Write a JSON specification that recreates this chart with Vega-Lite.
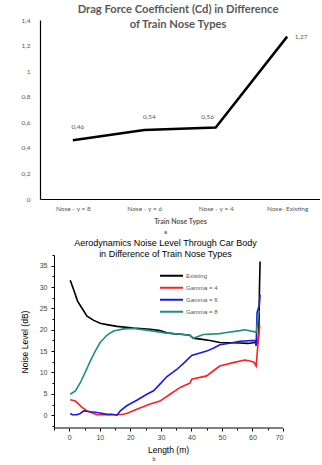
{
  "$schema": "https://vega.github.io/schema/vega-lite/v6.json",
  "padding": {"left": 20, "top": 3, "right": 0, "bottom": 0},
  "background": "white",
  "align": "none",
  "spacing": 4,
  "resolve": {"legend": {"color": "independent"}},
  "config": {
    "view": {"stroke": null},
    "locale": {"number": {"decimal": ",", "thousands": ".", "grouping": [3], "currency": ["", ""]}}
  },
  "title": {"text": "b", "orient": "bottom", "anchor": "middle", "fontSize": 5.5, "fontWeight": "normal", "font": "Liberation Sans", "color": "#333", "dx": -16, "offset": 3},
  "vconcat": [
    {
      "width": 280,
      "height": 179,
      "title": {"text": ["Drag Force Coefficient (Cd) in  Difference", "of Train Nose Types"], "font": "Lato", "fontSize": 11.2, "fontWeight": "bold", "color": "#595959", "offset": -13, "frame": "group", "anchor": "middle", "dx": -2, "lineHeight": 15},
      "data": {"values": [
        {"nose": "Nose - γ = 8", "cd": 0.46},
        {"nose": "Nose - γ = 6", "cd": 0.54},
        {"nose": "Nose - γ = 4", "cd": 0.56},
        {"nose": "Nose- Existing", "cd": 1.27}
      ]},
      "encoding": {
        "x": {"field": "nose", "type": "ordinal", "sort": null, "scale": {"type": "point", "padding": 0.46},
          "axis": {"title": "Train Nose Types", "labelAngle": 0, "ticks": false, "domainColor": "black", "domainWidth": 1.2, "labelFont": "Lato", "labelFontSize": 6.5, "labelColor": "#595959", "labelPadding": 6, "titleFont": "Lato", "titleFontSize": 7, "titleColor": "#595959", "titleFontWeight": "bold", "titlePadding": 6}},
        "y": {"field": "cd", "type": "quantitative", "scale": {"domain": [0, 1.4], "nice": false},
          "axis": {"title": null, "values": [0, 0.2, 0.4, 0.6, 0.8, 1, 1.2, 1.4], "format": ".1~f", "ticks": false, "grid": false, "domainColor": "black", "domainWidth": 1.2, "labelFont": "Lato", "labelFontSize": 6.5, "labelColor": "#595959", "labelPadding": 10}}
      },
      "layer": [
        {"mark": {"type": "line", "color": "black", "strokeWidth": 2.5}},
        {"transform": [{"filter": "datum.cd < 0.55"}], "mark": {"type": "text", "dx": 5, "dy": -13, "font": "Lato", "fontSize": 6.5, "color": "#595959"}, "encoding": {"text": {"field": "cd", "type": "quantitative", "format": ".2f"}}},
        {"transform": [{"filter": "datum.cd > 0.55 && datum.cd < 1"}], "mark": {"type": "text", "dx": -8, "dy": -10, "font": "Lato", "fontSize": 6.5, "color": "#595959"}, "encoding": {"text": {"field": "cd", "type": "quantitative", "format": ".2f"}}},
        {"transform": [{"filter": "datum.cd > 1"}], "mark": {"type": "text", "dx": 14, "dy": 0, "font": "Lato", "fontSize": 6.5, "color": "#595959"}, "encoding": {"text": {"field": "cd", "type": "quantitative", "format": ".2f"}}}
      ]
    },
    {
      "width": 243,
      "height": 173,
      "title": {"text": "a", "fontSize": 5.5, "fontWeight": "normal", "font": "Liberation Sans", "color": "#333", "subtitle": ["Aerodynamics Noise Level Through Car Body", "in Difference of Train Nose Types"], "subtitleFont": "Liberation Sans", "subtitleFontSize": 9, "subtitleColor": "black", "subtitlePadding": 4, "subtitleLineHeight": 10.5, "frame": "group", "anchor": "middle", "dx": 4, "offset": -4},
      "encoding": {
        "x": {"type": "quantitative", "scale": {"domain": [-9.6, 70], "nice": false},
          "axis": {"title": "Length (m)", "domain": false, "values": [-5, 0, 5, 10, 15, 20, 25, 30, 35, 40, 45, 50, 55, 60, 65, 70], "labelExpr": "datum.value % 10 === 0 ? datum.label : ''", "grid": false, "tickSize": {"condition": {"test": "datum.value % 10 === 0", "value": 3}, "value": 2}, "tickColor": "black", "labelFont": "Liberation Sans", "labelFontSize": 7, "labelColor": "#444", "labelPadding": 2, "titleFont": "Liberation Sans", "titleFontSize": 8.5, "titleFontWeight": "normal", "titleColor": "black", "titlePadding": 5, "titleX": 128}},
        "y": {"type": "quantitative", "scale": {"domain": [-3, 37.5], "nice": false},
          "axis": {"title": "Noise Level (dB)", "offset": -14, "values": [-2.5, 0, 2.5, 5, 7.5, 10, 12.5, 15, 17.5, 20, 22.5, 25, 27.5, 30, 32.5, 35, 37.5], "labelExpr": "datum.value % 5 === 0 ? datum.label : ''", "grid": false, "tickSize": {"condition": {"test": "datum.value % 5 === 0", "value": 3}, "value": 2}, "domainColor": "black", "tickColor": "black", "labelFont": "Liberation Sans", "labelFontSize": 7, "labelColor": "#444", "labelPadding": 4, "titleFont": "Liberation Sans", "titleFontSize": 8.5, "titleFontWeight": "normal", "titleColor": "black", "titlePadding": 10}}
      },
      "layer": [
        {
          "data": {"values": [{}]},
          "mark": {"type": "rule", "color": "black", "strokeWidth": 1},
          "encoding": {"x": {"datum": -5}, "x2": {"datum": 70}, "y": {"datum": -3}}
        },
        {
          "data": {"values": [
            {"series": "Existing", "length": 0.3, "noise": 31.6},
            {"series": "Existing", "length": 1.6, "noise": 29.0},
            {"series": "Existing", "length": 2.7, "noise": 26.7},
            {"series": "Existing", "length": 4.1, "noise": 25.1},
            {"series": "Existing", "length": 5.8, "noise": 23.2},
            {"series": "Existing", "length": 8.0, "noise": 22.2},
            {"series": "Existing", "length": 10.1, "noise": 21.5},
            {"series": "Existing", "length": 12.3, "noise": 21.2},
            {"series": "Existing", "length": 15.6, "noise": 20.8},
            {"series": "Existing", "length": 21.0, "noise": 20.4},
            {"series": "Existing", "length": 26.5, "noise": 20.1},
            {"series": "Existing", "length": 29.7, "noise": 19.8},
            {"series": "Existing", "length": 31.9, "noise": 19.3},
            {"series": "Existing", "length": 34.1, "noise": 19.1},
            {"series": "Existing", "length": 37.4, "noise": 18.9},
            {"series": "Existing", "length": 39.5, "noise": 18.7},
            {"series": "Existing", "length": 40.6, "noise": 18.0},
            {"series": "Existing", "length": 43.0, "noise": 17.8},
            {"series": "Existing", "length": 46.1, "noise": 17.5},
            {"series": "Existing", "length": 49.3, "noise": 17.0},
            {"series": "Existing", "length": 55.9, "noise": 16.9},
            {"series": "Existing", "length": 58.5, "noise": 16.8},
            {"series": "Existing", "length": 60.8, "noise": 17.0},
            {"series": "Existing", "length": 61.8, "noise": 17.0},
            {"series": "Existing", "length": 62.1, "noise": 20.0},
            {"series": "Existing", "length": 62.3, "noise": 30.0},
            {"series": "Existing", "length": 62.5, "noise": 36.0},
            {"series": "Gamma = 4", "length": 0.3, "noise": 3.6},
            {"series": "Gamma = 4", "length": 2.0, "noise": 3.3},
            {"series": "Gamma = 4", "length": 4.1, "noise": 1.9},
            {"series": "Gamma = 4", "length": 5.8, "noise": 1.0},
            {"series": "Gamma = 4", "length": 7.5, "noise": 0.5},
            {"series": "Gamma = 4", "length": 9.0, "noise": 0.1},
            {"series": "Gamma = 4", "length": 12.3, "noise": 0.1},
            {"series": "Gamma = 4", "length": 15.6, "noise": 0.1},
            {"series": "Gamma = 4", "length": 17.5, "noise": 0.2},
            {"series": "Gamma = 4", "length": 18.8, "noise": 0.4},
            {"series": "Gamma = 4", "length": 22.1, "noise": 1.4},
            {"series": "Gamma = 4", "length": 26.5, "noise": 2.6},
            {"series": "Gamma = 4", "length": 29.7, "noise": 3.3},
            {"series": "Gamma = 4", "length": 33.0, "noise": 4.9},
            {"series": "Gamma = 4", "length": 36.3, "noise": 6.5},
            {"series": "Gamma = 4", "length": 38.5, "noise": 7.2},
            {"series": "Gamma = 4", "length": 39.5, "noise": 7.5},
            {"series": "Gamma = 4", "length": 40.1, "noise": 8.4},
            {"series": "Gamma = 4", "length": 45.0, "noise": 9.2},
            {"series": "Gamma = 4", "length": 47.2, "noise": 10.4},
            {"series": "Gamma = 4", "length": 49.3, "noise": 11.5},
            {"series": "Gamma = 4", "length": 53.7, "noise": 12.3},
            {"series": "Gamma = 4", "length": 57.5, "noise": 12.9},
            {"series": "Gamma = 4", "length": 59.2, "noise": 12.7},
            {"series": "Gamma = 4", "length": 60.5, "noise": 12.4},
            {"series": "Gamma = 4", "length": 61.2, "noise": 11.5},
            {"series": "Gamma = 4", "length": 61.6, "noise": 15.0},
            {"series": "Gamma = 4", "length": 62.1, "noise": 19.0},
            {"series": "Gamma = 4", "length": 62.4, "noise": 21.0},
            {"series": "Gamma = 6", "length": 0.3, "noise": 0.4},
            {"series": "Gamma = 6", "length": 1.0, "noise": 0.1},
            {"series": "Gamma = 6", "length": 2.5, "noise": 0.1},
            {"series": "Gamma = 6", "length": 3.6, "noise": 0.4},
            {"series": "Gamma = 6", "length": 4.7, "noise": 1.0},
            {"series": "Gamma = 6", "length": 6.9, "noise": 0.8},
            {"series": "Gamma = 6", "length": 8.5, "noise": 0.7},
            {"series": "Gamma = 6", "length": 10.1, "noise": 0.5},
            {"series": "Gamma = 6", "length": 12.3, "noise": 0.2},
            {"series": "Gamma = 6", "length": 14.0, "noise": 0.2},
            {"series": "Gamma = 6", "length": 15.6, "noise": 0.0},
            {"series": "Gamma = 6", "length": 16.7, "noise": 1.0},
            {"series": "Gamma = 6", "length": 18.8, "noise": 2.2},
            {"series": "Gamma = 6", "length": 22.1, "noise": 3.5},
            {"series": "Gamma = 6", "length": 25.4, "noise": 4.9},
            {"series": "Gamma = 6", "length": 27.6, "noise": 5.7},
            {"series": "Gamma = 6", "length": 30.0, "noise": 7.5},
            {"series": "Gamma = 6", "length": 31.9, "noise": 9.0},
            {"series": "Gamma = 6", "length": 35.2, "noise": 10.7},
            {"series": "Gamma = 6", "length": 37.5, "noise": 12.2},
            {"series": "Gamma = 6", "length": 40.1, "noise": 14.0},
            {"series": "Gamma = 6", "length": 45.0, "noise": 15.0},
            {"series": "Gamma = 6", "length": 47.5, "noise": 15.8},
            {"series": "Gamma = 6", "length": 49.3, "noise": 16.5},
            {"series": "Gamma = 6", "length": 52.0, "noise": 16.8},
            {"series": "Gamma = 6", "length": 55.9, "noise": 17.3},
            {"series": "Gamma = 6", "length": 60.8, "noise": 17.5},
            {"series": "Gamma = 6", "length": 61.2, "noise": 16.2},
            {"series": "Gamma = 6", "length": 61.5, "noise": 24.0},
            {"series": "Gamma = 6", "length": 61.9, "noise": 25.0},
            {"series": "Gamma = 6", "length": 62.2, "noise": 25.5},
            {"series": "Gamma = 6", "length": 62.5, "noise": 28.2},
            {"series": "Gamma = 8", "length": 0.3, "noise": 4.9},
            {"series": "Gamma = 8", "length": 2.0, "noise": 5.7},
            {"series": "Gamma = 8", "length": 3.6, "noise": 7.6},
            {"series": "Gamma = 8", "length": 5.2, "noise": 10.0},
            {"series": "Gamma = 8", "length": 6.9, "noise": 12.7},
            {"series": "Gamma = 8", "length": 8.5, "noise": 15.0},
            {"series": "Gamma = 8", "length": 10.1, "noise": 17.0},
            {"series": "Gamma = 8", "length": 12.3, "noise": 18.7},
            {"series": "Gamma = 8", "length": 14.5, "noise": 19.7},
            {"series": "Gamma = 8", "length": 17.8, "noise": 20.2},
            {"series": "Gamma = 8", "length": 21.0, "noise": 20.3},
            {"series": "Gamma = 8", "length": 26.5, "noise": 19.8},
            {"series": "Gamma = 8", "length": 31.9, "noise": 19.2},
            {"series": "Gamma = 8", "length": 37.4, "noise": 18.9},
            {"series": "Gamma = 8", "length": 39.5, "noise": 18.7},
            {"series": "Gamma = 8", "length": 40.6, "noise": 18.0},
            {"series": "Gamma = 8", "length": 43.9, "noise": 18.9},
            {"series": "Gamma = 8", "length": 49.3, "noise": 19.1},
            {"series": "Gamma = 8", "length": 51.0, "noise": 19.3},
            {"series": "Gamma = 8", "length": 55.9, "noise": 19.8},
            {"series": "Gamma = 8", "length": 57.5, "noise": 20.0},
            {"series": "Gamma = 8", "length": 60.8, "noise": 19.5},
            {"series": "Gamma = 8", "length": 61.3, "noise": 19.5},
            {"series": "Gamma = 8", "length": 61.9, "noise": 23.6},
            {"series": "Gamma = 8", "length": 62.2, "noise": 24.5}
          ]},
          "mark": {"type": "line", "strokeWidth": 1.6},
          "encoding": {
            "x": {"field": "length", "type": "quantitative"},
            "y": {"field": "noise", "type": "quantitative"},
            "color": {"field": "series", "type": "nominal",
              "scale": {"domain": ["Existing", "Gamma = 4", "Gamma = 6", "Gamma = 8"], "range": ["#000000", "#ff2020", "#1a1ae6", "#1f8f80"]},
              "legend": {"title": null, "orient": "none", "legendX": 119, "legendY": 15, "symbolType": "stroke", "symbolSize": 529, "symbolStrokeWidth": 2, "clipHeight": 11.3, "rowPadding": 0, "labelFont": "Liberation Sans", "labelFontSize": 6, "labelColor": "#555", "labelOffset": 2}}
          }
        }
      ]
    }
  ]
}
